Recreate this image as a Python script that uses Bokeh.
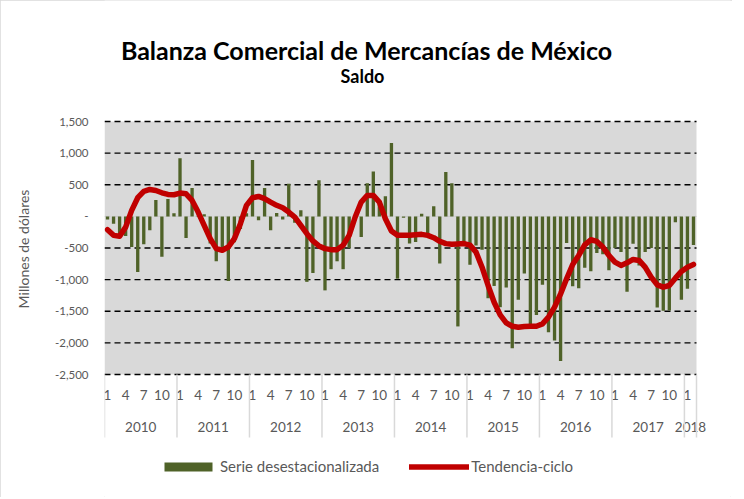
from bokeh.plotting import figure
from bokeh.models import (FixedTicker, LinearAxis, Range1d, Legend, LegendItem)
from bokeh.core.properties import value
from bokeh.embed import file_html
from bokeh.resources import INLINE

# ---------------- data ----------------
years = ["2010", "2011", "2012", "2013", "2014", "2015", "2016", "2017", "2018"]
month_labels = ["1", "4", "7", "10"]

# Serie desestacionalizada (millones de dólares), Ene-2010 .. Feb-2018
serie = [
    -50, -115, -310, -310, -485, -880, -440, -220, 260, -640, 275, 50,          # 2010
    920, -340, 450, 10, 35, -430, -710, -560, -1020, -408, -200, 50,           # 2011
    890, -60, 450, -220, 55, -50, 515, -100, 95, -1035, -895, 570,             # 2012
    -1170, -835, -710, -835, -500, -60, -325, 525, 710, 250, 320, 1160,        # 2013
    -985, -20, -430, -405, 40, -325, 160, -745, 700, 525, -1740, -450,         # 2014
    -765, -460, -528, -1294, -1100, -1436, -1125, -2086, -1320, -903, -1730, -1558,  # 2015
    -1082, -1832, -1964, -2286, -422, -1104, -1135, -813, -866, -581, -600, -850,    # 2016
    -500, -565, -1190, -432, -775, -565, -500, -1441, -1494, -1490, -92, -1318,      # 2017
    -1146, -452,                                                                     # 2018
]

# Tendencia-ciclo
tendencia = [
    -210, -300, -315, -170, 95, 295, 395, 425, 410, 373, 347, 342,
    368, 357, 252, 68, -142, -352, -510, -536, -484, -352, -116, 174,
    295, 315, 280, 226, 175, 137, 68, -10, -142, -273, -389, -468,
    -510, -526, -526, -457, -300, -10, 226, 331, 331, 226, -37, -231,
    -300, -300, -300, -289, -284, -300, -337, -394, -431, -442, -437, -430,
    -455, -565, -803, -1093, -1357, -1558, -1684, -1737, -1753, -1742, -1737, -1737,
    -1700, -1594, -1436, -1225, -987, -760, -618, -449, -370, -396, -486, -618,
    -723, -776, -734, -681, -697, -803, -961, -1082, -1119, -1093, -977, -871,
    -803, -760,
]

y_ticks = [-2500, -2000, -1500, -1000, -500, 0, 500, 1000, 1500]
y_tick_labels = ["-2,500", "-2,000", "-1,500", "-1,000", "-500", "-", "500", "1,000", "1,500"]

title_text = "Balanza Comercial de Mercancías de México"
subtitle_text = "Saldo"
y_label = "Millones de dólares"
series_names = ["Serie desestacionalizada", "Tendencia-ciclo"]

# ---------------- layout (pixels) ----------------
FONT = "Lato"
TXT = "#595959"
n = len(serie)
xs = list(range(n))

LEFT, FW, RIGHT = 104, 626, 2      # frame spans the whole drawing area right of the y axis
FH = 497                           # frame spans the full height
PLOT_TOP_PX, PLOT_BOT_PX = 121, 374    # pixel rows of the value axis ends
PLOT_RIGHT_PX = 696
ppx = (PLOT_RIGHT_PX - LEFT) / n
ppy = (PLOT_BOT_PX - PLOT_TOP_PX) / (y_ticks[-1] - y_ticks[0])
Y1 = y_ticks[-1] + PLOT_TOP_PX / ppy
Y0 = y_ticks[-1] - (FH - PLOT_TOP_PX) / ppy
X0 = -0.5
X1 = -0.5 + FW / ppx


def px_to_x(px):
    return -0.5 + (px - LEFT) / ppx


def py_to_y(py):
    return Y1 - py / ppy


p = figure(frame_width=FW, frame_height=FH,
           x_range=Range1d(X0, X1), y_range=Range1d(Y0, Y1),
           x_axis_type=None, y_axis_type=None,
           output_backend="svg", toolbar_location=None,
           min_border_left=LEFT, min_border_right=RIGHT,
           min_border_top=0, min_border_bottom=0)
p.background_fill_color = "white"
p.border_fill_color = "white"
p.outline_line_color = None
p.styles = {"outline": "1px solid #D9D9D9", "outline-offset": "-1px"}

# plot area background
p.quad(left=[-0.5], right=[n - 0.5], bottom=[y_ticks[0]], top=[y_ticks[-1]],
       fill_color="#D9D9D9", line_color=None)

# dashed gridlines
gl = [t for t in y_ticks if t != 0]
p.segment(x0=[-0.5] * len(gl), x1=[n - 0.5] * len(gl), y0=gl, y1=gl,
          line_color="black", line_dash="6 4", line_width=1.3)
p.segment(x0=[-0.5], x1=[n - 0.5], y0=[0], y1=[0],
          line_color="#C8C8C8", line_dash="6 4", line_width=1)

# titles
p.text(x=[px_to_x(366)], y=[py_to_y(49)], text=[title_text],
       text_align="center", text_baseline="middle", text_font=value(FONT),
       text_font_size="25px", text_font_style="bold", text_color="black")
p.text(x=[px_to_x(362)], y=[py_to_y(75)], text=[subtitle_text],
       text_align="center", text_baseline="middle", text_font=value(FONT),
       text_font_size="18px", text_font_style="bold", text_color="black")

# y axis
yaxis = LinearAxis(ticker=FixedTicker(ticks=y_ticks, minor_ticks=[]),
                   major_label_overrides={t: l for t, l in zip(y_ticks, y_tick_labels)},
                   axis_line_color=None, major_tick_line_color=None,
                   minor_tick_line_color=None, major_tick_out=0,
                   major_label_standoff=16,
                   major_label_text_font=FONT, major_label_text_font_size="11.5px",
                   major_label_text_color=TXT,
                   axis_label=y_label, axis_label_standoff=20,
                   axis_label_text_font=FONT, axis_label_text_font_size="14px",
                   axis_label_text_font_style="normal", axis_label_text_color=TXT)
p.add_layout(yaxis, "left")

# marks
bars = p.vbar(x=xs, top=serie, bottom=0, width=0.55,
              fill_color="#4F6228", line_color=None)
line = p.line(xs, tendencia, line_color="#C00000", line_width=5.5,
              line_join="round", line_cap="round")

# category axis: month row, year row, year separators
month_ticks = [i for i in xs if i % 3 == 0]
p.text(x=month_ticks, y=[py_to_y(394)] * len(month_ticks),
       text=[month_labels[(i % 12) // 3] for i in month_ticks],
       text_align="center", text_baseline="middle", text_font=value(FONT),
       text_font_size="13.5px", text_color=TXT)
year_centers = []
for k in range(len(years)):
    first = 12 * k
    last = min(12 * k + 11, n - 1)
    year_centers.append((first + last) / 2)
p.text(x=year_centers, y=[py_to_y(426)] * len(years), text=years,
       text_align="center", text_baseline="middle", text_font=value(FONT),
       text_font_size="13.5px", text_color=TXT)
bounds = [12 * k - 0.5 for k in range(len(years))] + [n - 0.5]
p.segment(x0=bounds, x1=bounds, y0=[py_to_y(PLOT_BOT_PX)] * len(bounds),
          y1=[py_to_y(437)] * len(bounds), line_color="#D9D9D9", line_width=1.5)

# legend
legend = Legend(items=[LegendItem(label=series_names[0], renderers=[bars]),
                       LegendItem(label=series_names[1], renderers=[line])],
                orientation="horizontal", location=(54, 22),
                border_line_color=None, background_fill_alpha=0,
                glyph_width=60, glyph_height=11, label_standoff=2, spacing=30,
                label_text_font=FONT, label_text_font_size="15px",
                label_text_color=TXT, margin=0, padding=8)
p.add_layout(legend)

open("out.html", "w").write(file_html(p, INLINE))
